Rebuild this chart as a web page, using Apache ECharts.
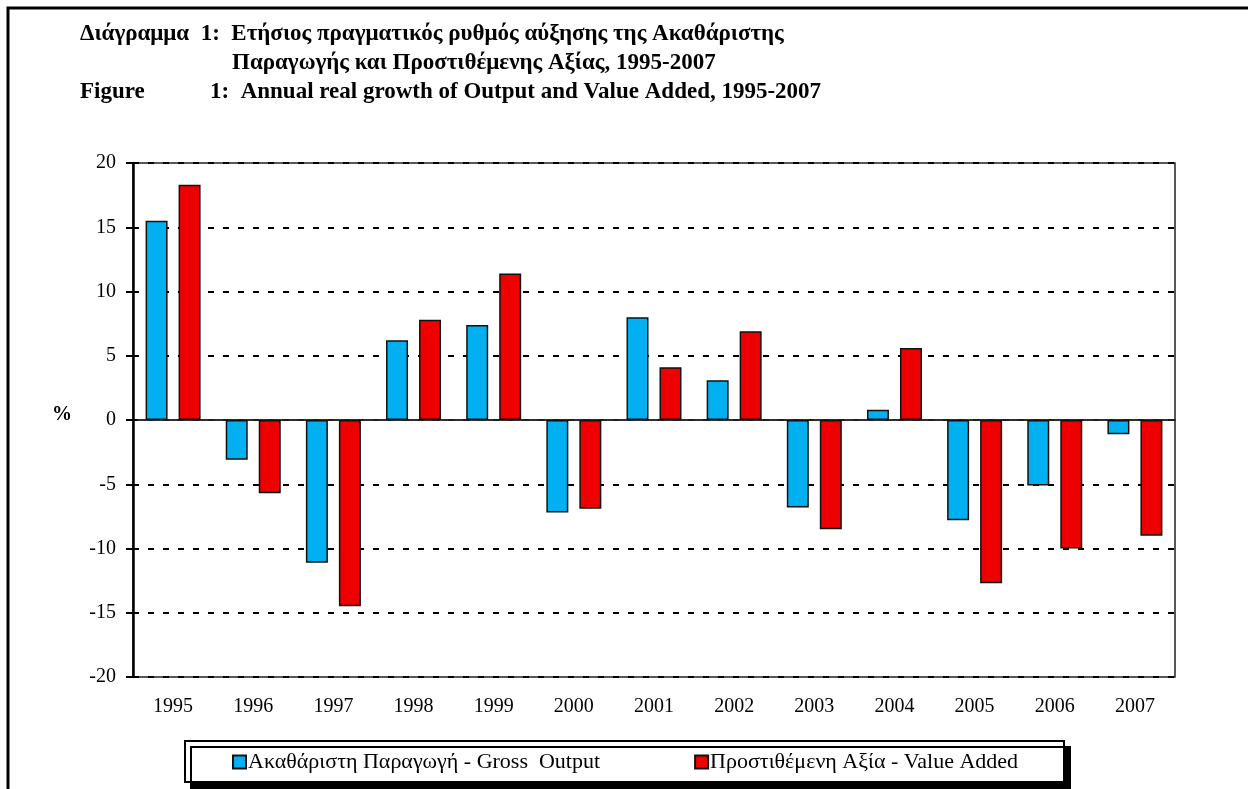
<!DOCTYPE html>
<html>
<head>
<meta charset="utf-8">
<script src="https://cdn.jsdelivr.net/npm/echarts@6/dist/echarts.min.js"></script>
<style>
  html, body { margin: 0; padding: 0; background: #fff; }
  #chart { width: 1248px; height: 789px; }
</style>
</head>
<body>
<div id="chart"></div>
<script>
// data
const years = ["1995", "1996", "1997", "1998", "1999", "2000", "2001",
  "2002", "2003", "2004", "2005", "2006", "2007"];
const grossOutput = [15.5, -3.1, -11.1, 6.2, 7.4, -7.2, 8.0, 3.1, -6.8, 0.8, -7.8, -5.1, -1.1];
const valueAdded = [18.3, -5.7, -14.5, 7.8, 11.4, -6.9, 4.1, 6.9, -8.5, 5.6, -12.7, -10.0, -9.0];
const seriesNames = ["Ακαθάριστη Παραγωγή - Gross  Output", "Προστιθέμενη Αξία - Value Added"];
const yTicks = { min: -20, max: 20, step: 5 };

const serif = "'Liberation Serif', 'Times New Roman', serif";
const titleFont = "bold 23px " + serif;

const chart = echarts.init(document.getElementById("chart"));

const yBase = {
  type: "value",
  min: yTicks.min,
  max: yTicks.max,
  interval: yTicks.step,
  position: "left"
};

const option = {
  animation: false,
  backgroundColor: "#fff",
  grid: {
    left: 133, right: 73, top: 163, bottom: 112,
    show: true, borderColor: "#222", borderWidth: 1.5
  },
  legend: {
    data: seriesNames,
    left: 227,
    top: 746,
    itemWidth: 13,
    itemHeight: 13,
    itemGap: 94,
    icon: "rect",
    textStyle: { fontFamily: serif, fontSize: 22, color: "#000", padding: [0, 0, 0, -3] }
  },
  xAxis: [
    {
      // labels at the bottom
      type: "category", data: years, position: "bottom",
      axisLine: { show: false, onZero: false },
      axisTick: { show: false },
      axisLabel: { fontFamily: serif, fontSize: 20, color: "#000", margin: 20 }
    },
    {
      // zero line, ticks going down
      type: "category", data: years, position: "bottom",
      axisLine: { onZero: true, lineStyle: { color: "#222", width: 1.5 } },
      axisTick: { inside: false, length: 4, lineStyle: { color: "#000", width: 2 } },
      axisLabel: { show: false }
    },
    {
      // ticks going up
      type: "category", data: years, position: "bottom",
      axisLine: { onZero: true, lineStyle: { color: "#222", width: 1.5 } },
      axisTick: { inside: true, length: 4, lineStyle: { color: "#000", width: 2 } },
      axisLabel: { show: false }
    }
  ],
  yAxis: [
    Object.assign({}, yBase, {
      axisLine: { show: true, lineStyle: { color: "#000", width: 2.5 } },
      axisTick: { show: true, inside: false, length: 7, lineStyle: { color: "#000", width: 2 } },
      axisLabel: { fontFamily: serif, fontSize: 20, color: "#000", margin: 17 },
      splitLine: { show: true, lineStyle: { color: "#000", width: 2, type: [6, 9] } }
    }),
    Object.assign({}, yBase, {
      axisLine: { show: false },
      axisTick: { show: true, inside: true, length: 4, lineStyle: { color: "#000", width: 2 } },
      axisLabel: { show: false },
      splitLine: { show: false }
    })
  ],
  graphic: [
    {
      type: "polyline", z: 0,
      shape: { points: [[8, 789], [8, 8], [1248, 8]] },
      style: { stroke: "#000", lineWidth: 3, fill: null }
    },
    {
      type: "rect", z: 0,
      shape: { x: 185, y: 741, width: 879, height: 41 },
      style: { fill: "#fff", stroke: "#000", lineWidth: 2, shadowColor: "#000", shadowOffsetX: 6, shadowOffsetY: 6, shadowBlur: 0 }
    },
    {
      type: "text", left: 80, top: 23,
      style: { text: "Διάγραμμα  1:  Ετήσιος πραγματικός ρυθμός αύξησης της Ακαθάριστης", font: titleFont, fill: "#000" }
    },
    {
      type: "text", left: 232, top: 52,
      style: { text: "Παραγωγής και Προστιθέμενης Αξίας, 1995-2007", font: titleFont, fill: "#000" }
    },
    {
      type: "text", left: 80, top: 81,
      style: { text: "Figure", font: titleFont, fill: "#000" }
    },
    {
      type: "text", left: 210, top: 81,
      style: { text: "1:  Annual real growth of Output and Value Added, 1995-2007", font: titleFont, fill: "#000" }
    },
    {
      type: "text", left: 52, top: 405,
      style: { text: "%", font: "bold 20px " + serif, fill: "#000" }
    }
  ],
  series: [
    {
      name: seriesNames[0], type: "bar", data: grossOutput,
      barWidth: 22, barGap: "50%",
      itemStyle: { color: "#00B0F0", borderColor: "#111", borderWidth: 1.5 }
    },
    {
      name: seriesNames[1], type: "bar", data: valueAdded,
      barWidth: 22, barGap: "50%",
      itemStyle: { color: "#EE0000", borderColor: "#111", borderWidth: 1.5 }
    }
  ]
};

chart.setOption(option);
</script>
</body>
</html>
